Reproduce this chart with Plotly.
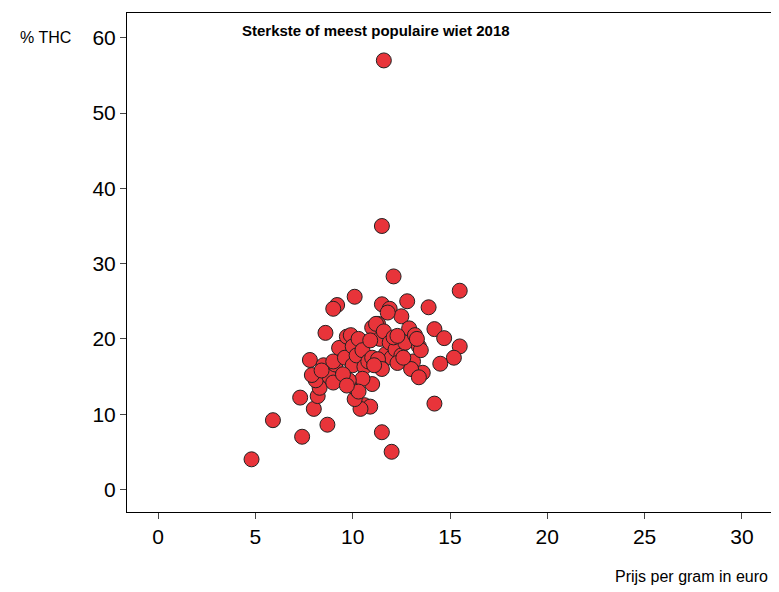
import plotly.graph_objects as go

prijs = [11.6,11.5,12.1,10.1,15.5,12.8,9.2,9.0,11.5,11.9,13.9,11.3,12.5,14.2,14.7,15.5,15.2,14.5,13.6,14.2,
         12.0,11.5,10.6,10.9,10.4,10.1,10.2,11.0,8.7,7.4,7.3,5.9,4.8,8.0,8.2,8.3,8.1,7.9,7.8,8.5,
         8.6,8.8,9.0,9.1,9.0,9.3,9.6,9.7,9.9,10.0,10.0,10.2,10.3,10.5,10.6,10.8,11.0,11.0,11.2,11.4,
         11.6,11.7,11.9,12.0,12.2,12.5,12.7,12.9,13.2,13.4,13.1,13.0,13.4,13.5,11.3,11.5,12.1,10.5,9.8,9.5,
         10.9,12.3,11.8,12.3,13.3,10.3,9.7,8.4,12.6,11.1]
thc = [57,35,28.3,25.6,26.4,25,24.5,24,24.6,24,24.2,22,23,21.3,20.1,19,17.5,16.7,15.5,11.4,
       5,7.6,11.2,11,10.7,12,13.3,14,8.6,7,12.2,9.2,4,10.7,12.4,13.5,14.5,15.2,17.2,16.5,
       20.8,15,14.2,16.6,17,18.8,17.5,20.3,20.5,19,16.5,17.8,20,18.5,16.3,17,17.5,21.5,22,20,
       21,18,19.5,17.5,18.6,17.8,19.5,21.4,20.5,19,17,16,14.9,18.5,17.3,16,20.2,14.7,14.5,15.3,
       19.8,16.8,23.5,20.4,20,13,13.8,15.8,17.5,16.5]

fig = go.Figure(go.Scatter(x=prijs, y=thc, mode="markers",
    marker=dict(size=15, color="#e8343a", line=dict(color="#222", width=1))))
ax = dict(showgrid=False, zeroline=False, showline=True, linecolor="black", mirror=True, automargin=False,
          ticks="outside", ticklen=6, tickfont=dict(size=21, family="Arial, Liberation Sans"))
fig.update_layout(width=771, height=584, plot_bgcolor="white", paper_bgcolor="white",
    margin=dict(l=119, r=6, t=5, b=80), showlegend=False,
    xaxis=dict(range=[-1.6, 31.6], tickvals=[0,5,10,15,20,25,30], **ax),
    yaxis=dict(range=[-3, 63.3], tickvals=[0,10,20,30,40,50,60], **ax),
    font=dict(family="Arial, Liberation Sans", color="black"),
    annotations=[
        dict(text="<b>Sterkste of meest populaire wiet 2018</b>", x=0.175, y=0.985, xref="paper", yref="paper",
             xanchor="left", yanchor="top", showarrow=False, font=dict(size=15)),
        dict(text="% THC", x=-0.083, y=0.95, xref="paper", yref="paper", xanchor="right", yanchor="middle",
             showarrow=False, font=dict(size=16)),
        dict(text="Prijs per gram in euro", x=0.995, y=-0.13, xref="paper", yref="paper", xanchor="right",
             yanchor="middle", showarrow=False, font=dict(size=16)),
    ])
fig.write_html("out.html")
